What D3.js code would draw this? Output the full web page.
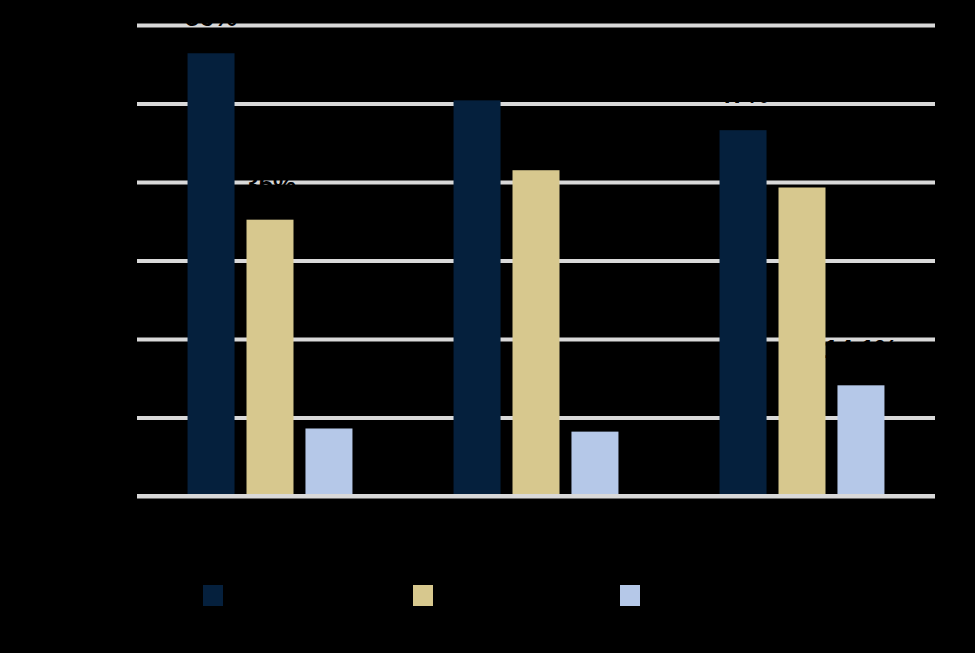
<!DOCTYPE html>
<html>
<head>
<meta charset="utf-8">
<script src="https://cdn.jsdelivr.net/npm/d3@7"></script>
<style>
  html, body { margin: 0; padding: 0; background: #000; }
  svg { display: block; }
</style>
</head>
<body>
<div id="chart"></div>
<script>
// ---- data ----
const categories = ["Group A", "Group B", "Group C"];
const seriesNames = ["Series 1", "Series 2", "Series 3"];
const series1 = [56.4, 50.4, 46.6];
const series2 = [35.2, 41.5, 39.3];
const series3 = [8.6, 8.2, 14.1];
const valueLabels1 = ["56%", "50%", "47%"];
const valueLabels2 = ["35%", "42%", "39%"];
const valueLabels3 = ["9%", "8%", "14.1%"];
const yTicks = [0, 10, 20, 30, 40, 50, 60];
const colors = ["#05203d", "#d7c88e", "#b5c8e8"];

// ---- layout ----
const W = 975, H = 653;
const svg = d3.select("#chart").append("svg").attr("width", W).attr("height", H);
svg.append("rect").attr("width", W).attr("height", H).attr("fill", "#000");

const y = d3.scaleLinear().domain([0, 60]).range([496, 25]);
const x0 = d3.scaleBand().domain(categories).range([137, 935]).paddingInner(0.38).paddingOuter(0.19);
const x1 = d3.scaleBand().domain(seriesNames).range([0, x0.bandwidth()]).paddingInner(0.203).paddingOuter(0);

const rows = categories.map((c, i) => ({
  cat: c,
  vals: [
    { s: seriesNames[0], v: series1[i], lab: valueLabels1[i], k: 0 },
    { s: seriesNames[1], v: series2[i], lab: valueLabels2[i], k: 1 },
    { s: seriesNames[2], v: series3[i], lab: valueLabels3[i], k: 2 }
  ]
}));

// gridlines
const yAxis = d3.axisLeft(y).tickValues(yTicks).tickFormat(d => d + "%").tickSize(-(935 - 137)).tickPadding(10);
const gy = svg.append("g").attr("transform", "translate(137,0)").call(yAxis);
gy.select(".domain").remove();
gy.selectAll(".tick line").attr("stroke", "#d9d9d9").attr("stroke-width", 4);
gy.selectAll(".tick text").attr("fill", "#000").attr("font-family", "Arial, 'Liberation Sans', sans-serif").attr("font-size", 20);

// bars
const g = svg.append("g");
const groups = g.selectAll("g.grp").data(rows).join("g")
  .attr("class", "grp")
  .attr("transform", d => `translate(${x0(d.cat)},0)`);

groups.selectAll("rect").data(d => d.vals).join("rect")
  .attr("x", d => x1(d.s))
  .attr("width", x1.bandwidth())
  .attr("y", d => y(d.v))
  .attr("height", d => y(0) - y(d.v))
  .attr("fill", d => colors[d.k]);

// value labels (black text)
groups.selectAll("text.val").data(d => d.vals).join("text")
  .attr("class", "val")
  .attr("x", d => x1(d.s) + x1.bandwidth() / 2)
  .attr("y", d => y(d.v) - 27)
  .attr("text-anchor", "middle")
  .attr("font-family", "Arial, 'Liberation Sans', sans-serif")
  .attr("font-weight", "bold")
  .attr("font-size", 26)
  .attr("fill", "#000")
  .text(d => d.lab);

// x axis baseline
const xAxis = d3.axisBottom(x0).tickSize(0).tickPadding(20);
const gx = svg.append("g").attr("transform", `translate(0,${y(0)})`).call(xAxis);
gx.select(".domain").attr("stroke", "#d9d9d9").attr("stroke-width", 4).attr("d", "M137,0H935");
gx.selectAll(".tick text").attr("fill", "#000").attr("font-family", "Arial, 'Liberation Sans', sans-serif").attr("font-size", 22);

// legend
const legendX = [203, 413, 620];
const leg = svg.append("g").selectAll("g").data(seriesNames).join("g")
  .attr("transform", (d, i) => `translate(${legendX[i]},585)`);
leg.append("rect").attr("width", 20).attr("height", 21).attr("fill", (d, i) => colors[i]);
leg.append("text").attr("x", 28).attr("y", 17)
  .attr("font-family", "Arial, 'Liberation Sans', sans-serif").attr("font-size", 20)
  .attr("fill", "#000").text(d => d);
</script>
</body>
</html>
